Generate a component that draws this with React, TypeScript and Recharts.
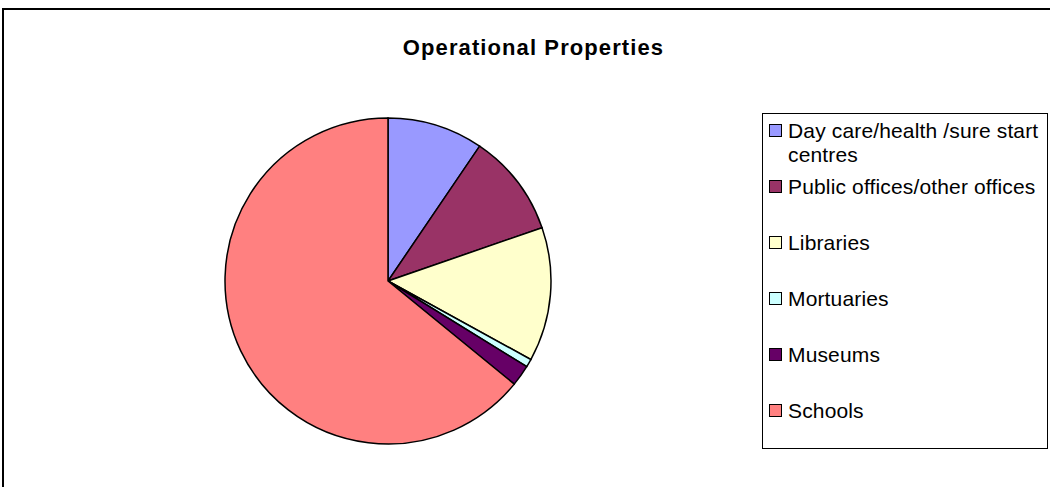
import { Legend, Pie, PieChart, Cell } from 'recharts'

const categories = [
    'Day care/health /sure start centres',
    'Public offices/other offices',
    'Libraries',
    'Mortuaries',
    'Museums',
    'Schools',
]
const shares = [9.5, 10.2, 13.3, 0.8, 2.1, 64.1]
const colors = ['#9999FF', '#993366', '#FFFFCC', '#CCFFFF', '#660066', '#FF8080']

const data = categories.map((name, i) => ({ name, value: shares[i] }))

const FONT = '"Liberation Sans", Arial, sans-serif'

const LegendBox = () => (
    <div style={{
        width: 286, height: 336, boxSizing: 'border-box', border: '1px solid #000',
        background: '#fff', paddingTop: 5, fontFamily: FONT, fontSize: 21, letterSpacing: 0.15, color: '#000',
    }}>
        {categories.map((name, i) => (
            <div key={name} style={{ height: 56, display: 'flex', alignItems: 'flex-start' }}>
                <div style={{
                    width: 13, height: 13, marginLeft: 6, marginTop: 5, flexShrink: 0,
                    boxSizing: 'border-box', border: '1px solid #000', background: colors[i],
                }} />
                <div style={{ marginLeft: 6, lineHeight: '24px', width: 256 }}>{name}</div>
            </div>
        ))}
    </div>
)

const App = () => {
    return (
        <div style={{ position: 'absolute', left: 0, top: 0, width: 1050, height: 487, overflow: 'hidden', background: '#fff' }}>
            <div style={{
                position: 'absolute', left: 2, top: 8, width: 1200, height: 600,
                border: '2px solid #000', boxSizing: 'border-box',
            }} />
            <div style={{
                position: 'absolute', left: 0, top: 35, width: 1067, textAlign: 'center',
                fontFamily: FONT, fontWeight: 'bold', fontSize: 22, letterSpacing: 1.1, color: '#000',
                lineHeight: 'normal', whiteSpace: 'nowrap',
            }}>
                Operational Properties
            </div>
            <div style={{ position: 'absolute', left: 0, top: 0 }}>
                <PieChart width={1050} height={487} margin={{ top: 0, right: 0, bottom: 0, left: 0 }}>
                    <Pie
                        data={data}
                        dataKey='value'
                        nameKey='name'
                        cx={388}
                        cy={281}
                        outerRadius={163}
                        startAngle={90}
                        endAngle={-270}
                        stroke='#000'
                        strokeWidth={1.5}
                        isAnimationActive={false}
                    >
                        {data.map((d, i) => (
                            <Cell key={d.name} fill={colors[i]} />
                        ))}
                    </Pie>
                    <Legend
                        layout='vertical'
                        content={() => <LegendBox />}
                        wrapperStyle={{ left: 762, top: 113, width: 286, height: 336 }}
                    />
                </PieChart>
            </div>
        </div>
    )
}

export default App
